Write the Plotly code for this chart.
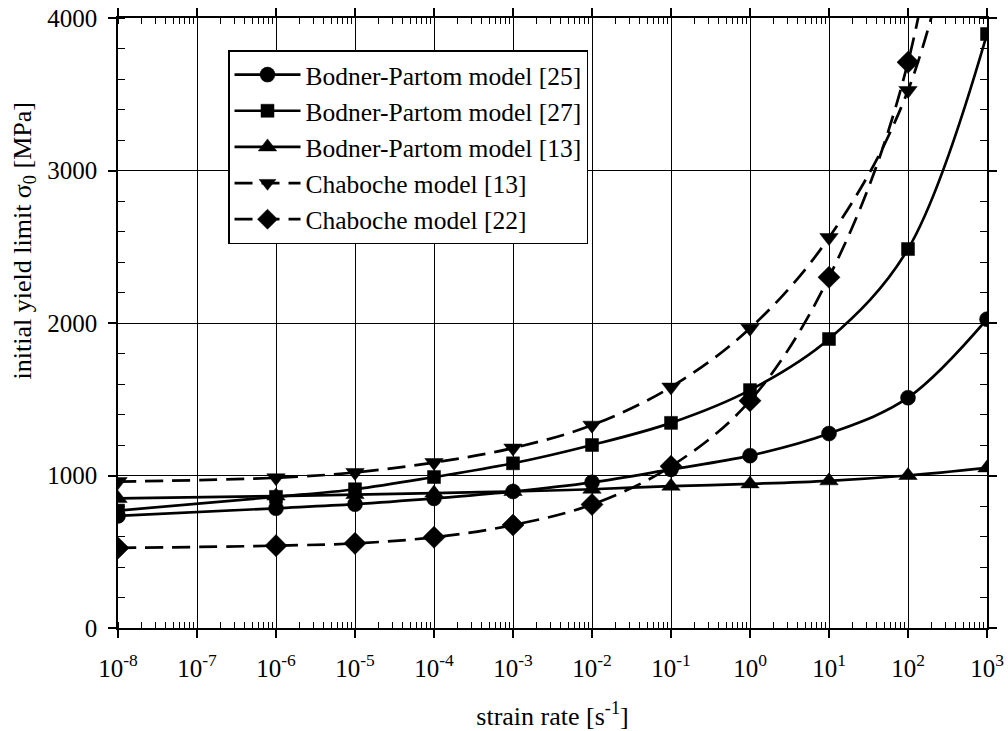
import plotly.graph_objects as go

# strain rate [1/s]
rates = [1e-8, 1e-6, 1e-5, 1e-4, 1e-3, 1e-2, 1e-1, 1e0, 1e1, 1e2, 1e3]

bp25 = [735, 785, 812, 850, 895, 955, 1040, 1130, 1275, 1510, 2025]
bp27 = [770, 860, 910, 990, 1080, 1200, 1345, 1560, 1895, 2485, 3895]
bp13 = [850, 865, 875, 885, 895, 910, 930, 945, 965, 1000, 1050]
# last value of the Chaboche series is an off-chart extension (no marker)
ch13 = [960, 985, 1020, 1085, 1180, 1330, 1580, 1965, 2560, 3525, 5600]
ch22 = [525, 540, 555, 595, 675, 810, 1060, 1490, 2300, 3710, 7200]

names = ["Bodner-Partom model [25]", "Bodner-Partom model [27]",
         "Bodner-Partom model [13]", "Chaboche model [13]", "Chaboche model [22]"]

xticks = [10.0 ** k for k in range(-8, 4)]
xticktext = ["10<sup>%d</sup>" % k for k in range(-8, 4)]
yticks = [0, 1000, 2000, 3000, 4000]

FONT = "Liberation Serif"

fig = go.Figure()

series = [
    (bp25, "circle", "solid", 15, False),
    (bp27, "square", "solid", 13, False),
    (bp13, "triangle-up", "solid", 16, False),
    (ch13, "triangle-down", "18px,9px", 16, True),
    (ch22, "diamond", "18px,9px", 17, True),
]

for (ys, sym, dash, ms, ext), nm in zip(series, names):
    sizes = [ms] * len(rates)
    if ext:
        sizes[-1] = 0
    fig.add_trace(go.Scatter(
        x=rates, y=ys, name=nm, mode="lines+markers",
        line=dict(color="#000000", width=2.7, dash=dash, shape="spline", smoothing=1.0),
        marker=dict(symbol=sym, size=sizes, color="#000000", opacity=1,
                    line=dict(width=0.5, color="#000000")),
        opacity=1,
    ))

fig.update_layout(
    width=1008, height=731,
    margin=dict(l=118, r=21, t=18, b=103, autoexpand=False),
    paper_bgcolor="white", plot_bgcolor="white",
    font=dict(family=FONT, color="black", size=25),
    legend=dict(
        x=0.1266, y=0.9475, xanchor="left", yanchor="top",
        bgcolor="white", bordercolor="black", borderwidth=1.5,
        font=dict(family=FONT, size=25.5, color="black"),
        itemwidth=66, tracegroupgap=0,
    ),
    showlegend=True,
    annotations=[dict(
        text="initial yield limit σ<sub>0</sub> [MPa]", textangle=-90,
        xref="paper", yref="paper", x=-0.108, y=0.634,
        xanchor="center", yanchor="middle", showarrow=False,
        font=dict(family=FONT, size=26, color="black"),
    )],
)

fig.update_xaxes(
    type="log", range=[-8, 3], automargin=False,
    tickvals=xticks, ticktext=xticktext,
    ticks="outside", ticklen=8, tickwidth=1.5, tickcolor="black",
    showgrid=True, gridcolor="black", gridwidth=1.3,
    showline=True, linecolor="black", linewidth=1.5, mirror="ticks",
    zeroline=False,
    tickfont=dict(family=FONT, size=25, color="black"),
    ticklabelstandoff=9,
    minor=dict(dtick="D1", ticks="inside", ticklen=6, tickwidth=1.2, tickcolor="black", showgrid=False),
    title=dict(text="strain rate [s<sup>-1</sup>]", font=dict(family=FONT, size=26, color="black"), standoff=29),
)

fig.update_yaxes(
    range=[0, 4000], tickvals=yticks, automargin=False,
    ticks="outside", ticklen=8, tickwidth=1.5, tickcolor="black",
    showgrid=True, gridcolor="black", gridwidth=1.3,
    showline=True, linecolor="black", linewidth=1.5, mirror="ticks",
    zeroline=False,
    tickfont=dict(family=FONT, size=25, color="black"),
    ticklabelstandoff=6,
    minor=dict(dtick=200, ticks="inside", ticklen=7, tickwidth=1.2, tickcolor="black", showgrid=False),
)

fig.write_html(
    "out.html",
    config={"displayModeBar": False},
    post_script="document.body.style.margin='0';document.body.style.overflow='hidden';",
)
